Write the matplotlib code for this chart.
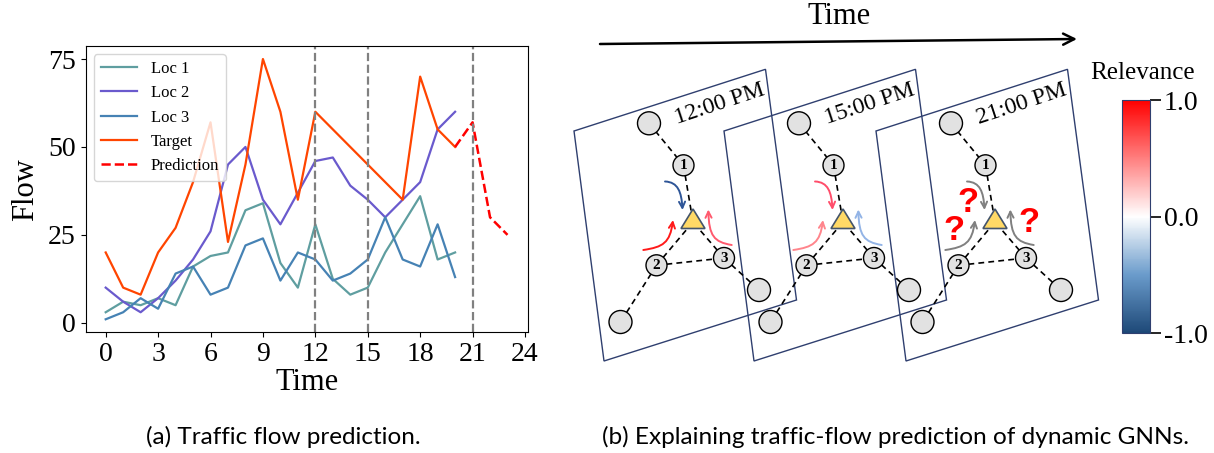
import matplotlib.pyplot as plt
from matplotlib.patches import Circle, Polygon, FancyArrowPatch
from matplotlib.path import Path
from matplotlib.colors import LinearSegmentedColormap, Normalize
from matplotlib.cm import ScalarMappable

plt.rcParams['font.family'] = ['Liberation Serif', 'DejaVu Serif']

# (a) traffic flow series
time = list(range(21))
loc1 = [3, 6, 5, 7, 5, 16, 19, 20, 32, 34, 17, 10, 28, 12.5, 8, 10, 20, 28, 36, 18, 20]
loc2 = [10, 6, 3, 7, 12, 18, 26, 45, 50, 35, 28, 37, 46, 47, 39, 35, 30, 35, 40, 55, 60]
loc3 = [1, 3, 7, 4, 14, 16, 8, 10, 22, 24, 12, 20, 18, 12, 14, 18, 30, 18, 16, 28, 13]
target_t = [0, 1, 2, 3, 4, 5, 6, 7, 8, 9, 10, 11, 12, 17, 18, 19, 20]
target = [20, 10, 8, 20, 27, 40, 57, 23, 45, 75, 60, 35, 60, 35, 70, 55, 50]
pred_t = [20, 21, 22, 23]
pred = [50, 57, 30, 25]
event_times = [12, 15, 21]

# (b) snapshots
snap_labels = ['12:00 PM', '15:00 PM', '21:00 PM']
arrow_colors = [['#2e5597', '#ff1a1a', '#ff5a6e'],
                ['#ff4d6a', '#ff858c', '#93b4e6'],
                ['#808080', '#808080', '#808080']]
rel_ticks = [-1.0, 0.0, 1.0]
rel_ticklabels = ['-1.0', '0.0', '1.0']

W, H = 1214, 453
fig = plt.figure(figsize=(W / 100, H / 100), dpi=100)

ax = fig.add_axes([85.6 / W, 1 - 332.3 / H, 442 / W, 286.3 / H])
ax.plot(time, loc1, color='cadetblue', lw=1.6, label='Loc 1')
ax.plot(time, loc2, color='slateblue', lw=1.6, label='Loc 2')
ax.plot(time, loc3, color='steelblue', lw=1.6, label='Loc 3')
ax.plot(target_t, target, color='orangered', lw=1.6, label='Target')
ax.plot(pred_t, pred, color='red', ls='--', lw=1.8, label='Prediction')
for t in event_times:
    ax.axvline(t, color='gray', ls='--', lw=1.6)
ax.set_xticks(range(0, 25, 3))
ax.set_yticks([0, 25, 50, 75])
ax.tick_params(labelsize=20)
ax.set_xlabel('Time', fontsize=22, labelpad=1)
ax.set_ylabel('Flow', fontsize=22, labelpad=6)
ax.legend(loc='upper left', fontsize=12, handlelength=2.2)

# overlay in pixel coordinates for the diagram
ov = fig.add_axes([0, 0, 1, 1])
ov.set_xlim(0, W)
ov.set_ylim(H, 0)
ov.axis('off')

ov.text(283, 437, '(a) Traffic flow prediction.', ha='center', va='center',
        fontsize=17.5, family='Lato')
ov.text(896, 437, '(b) Explaining traffic-flow prediction of dynamic GNNs.',
        ha='center', va='center', fontsize=17.6, family='Lato')

ov.text(839, 17, 'Time', ha='center', va='center', fontsize=22)
ov.annotate('', xy=(1077, 39), xytext=(600, 44),
            arrowprops=dict(arrowstyle='->', lw=1.8, color='black',
                            mutation_scale=20, shrinkA=0, shrinkB=0))

frame = [(574, 131), (765.5, 69.3), (796.5, 300), (604, 361)]
nodes = {'top': (649, 123.3), 'n1': (683.5, 165.3), 'n2': (656.5, 265.3),
         'n3': (724, 258), 'br': (759, 290), 'bl': (620.5, 322)}
tri = [(693, 209), (681, 228.5), (705, 228.5)]
tri_c = (693, 222)
edges = [('top', 'n1'), ('n2', 'n3'), ('n2', 'bl'), ('n3', 'br')]
curves = [[(665, 181.5), (678, 182), (681.5, 192), (682.5, 210)],
          [(643.3, 250), (663, 247), (670, 243), (673, 220)],
          [(731.7, 245), (714, 242), (709, 236), (708.3, 209.5)]]
qmarks = [(968, 203), (954, 230), (1029, 222)]

offsets = [0, 150, 302]
for k, dx in enumerate(offsets):
    ov.add_patch(Polygon([(x + dx, y) for x, y in frame], closed=True,
                         fill=False, ec='#2f3f6f', lw=1.0, zorder=1))
    P = {n: (x + dx, y) for n, (x, y) in nodes.items()}
    tc = (tri_c[0] + dx, tri_c[1])
    for a, b in edges:
        ov.plot([P[a][0], P[b][0]], [P[a][1], P[b][1]], color='black',
                ls=(0, (3.5, 2.5)), lw=1.2, zorder=2)
    for n in ['n1', 'n2', 'n3']:
        ov.plot([P[n][0], tc[0]], [P[n][1], tc[1]], color='black',
                ls=(0, (3.5, 2.5)), lw=1.2, zorder=2)
    for n, (x, y) in P.items():
        r = 10.5 if n.startswith('n') else 11.5
        ov.add_patch(Circle((x, y), r, fc='#e2e2e2', ec='black', lw=1.0, zorder=3))
        if n.startswith('n'):
            ov.text(x, y + 0.5, n[1], ha='center', va='center', fontsize=11,
                    fontweight='bold', zorder=4)
    ov.add_patch(Polygon([(x + dx, y) for x, y in tri], closed=True,
                         fc='#ffd966', ec='#44546a', lw=1.2, zorder=3))
    for c, pts in zip(arrow_colors[k], curves):
        path = Path([(x + dx, y) for x, y in pts],
                    [Path.MOVETO, Path.CURVE4, Path.CURVE4, Path.CURVE4])
        ov.add_patch(FancyArrowPatch(path=path, arrowstyle='->', color=c,
                                     lw=1.4, mutation_scale=11, zorder=4))
    ov.text(720 + dx, 104, snap_labels[k], rotation=18.3, ha='center',
            va='center', fontsize=17, rotation_mode='anchor')

for x, y in qmarks:
    ov.text(x, y, '?', ha='center', va='center', fontsize=25, color='red',
            fontweight='bold', family='Liberation Sans', zorder=5)

# relevance colour bar
cmap = LinearSegmentedColormap.from_list(
    'rel', ['#1d4877', '#6a9bcb', '#ffffff', '#ff7f7f', '#ff0000'])
cax = fig.add_axes([1121.7 / W, 1 - 333.3 / H, 28.3 / W, 233.3 / H])
cb = fig.colorbar(ScalarMappable(Normalize(-1, 1), cmap), cax=cax, ticks=rel_ticks)
cb.ax.set_yticklabels(rel_ticklabels)
cb.ax.tick_params(labelsize=20, length=8, width=1.2, pad=2)
cb.outline.set_edgecolor('#2f3f6f')
ov.text(1143, 73, 'Relevance', ha='center', va='center', fontsize=18)

fig.savefig('out.png', dpi=100)
